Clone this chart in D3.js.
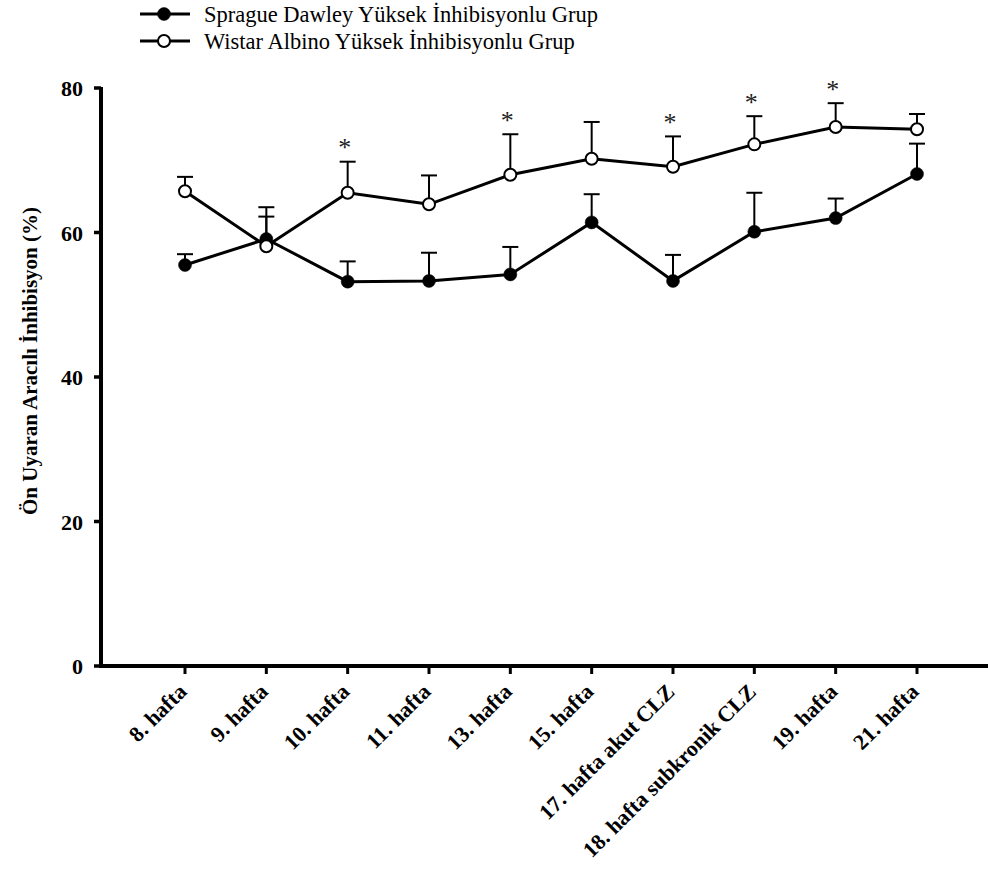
<!DOCTYPE html>
<html><head><meta charset="utf-8">
<script src="https://cdn.jsdelivr.net/npm/d3@7/dist/d3.min.js"></script>
<style>body{margin:0;background:#fff}svg{display:block}</style>
</head><body><svg id="chart" width="988" height="870"></svg>
<script>
const categories = ["8. hafta","9. hafta","10. hafta","11. hafta","13. hafta","15. hafta","17. hafta akut CLZ","18. hafta subkronik CLZ","19. hafta","21. hafta"];
const sdMean = [55.5,59.1,53.2,53.3,54.2,61.4,53.3,60.1,62.0,68.1];
const sdErr  = [1.5,4.4,2.8,3.9,3.8,3.9,3.6,5.4,2.7,4.2];
const waMean = [65.7,58.1,65.5,63.9,68.0,70.2,69.1,72.2,74.6,74.3];
const waErr  = [2.0,4.1,4.3,4.0,5.6,5.1,4.2,3.9,3.3,2.1];
const significant = ["10. hafta","13. hafta","17. hafta akut CLZ","18. hafta subkronik CLZ","19. hafta"];
const yTicks = [0,20,40,60,80];
const seriesNames = ["Sprague Dawley Yüksek İnhibisyonlu Grup","Wistar Albino Yüksek İnhibisyonlu Grup"];
const yTitle = "Ön Uyaran Aracılı İnhibisyon (%)";

const FONT = "'Liberation Serif','Times New Roman',Times,serif";
const svg = d3.select("#chart");
const axisX = 101, plotRight = 988;
const x = d3.scalePoint().domain(categories).range([185, 917]);
const y = d3.scaleLinear().domain([0, 80]).range([666, 88]);

// axes
const ax = svg.append("g");
ax.append("line").attr("x1", axisX).attr("x2", axisX).attr("y1", y(80) - 1).attr("y2", y(0) + 2)
  .attr("stroke", "#000").attr("stroke-width", 4);
ax.append("line").attr("x1", axisX - 2).attr("x2", plotRight).attr("y1", y(0)).attr("y2", y(0))
  .attr("stroke", "#000").attr("stroke-width", 4);
yTicks.forEach(t => {
  ax.append("line").attr("x1", axisX - 7).attr("x2", axisX).attr("y1", y(t)).attr("y2", y(t))
    .attr("stroke", "#000").attr("stroke-width", 3.5);
  ax.append("text").attr("x", 83).attr("y", y(t) + 8).attr("text-anchor", "end")
    .attr("font-family", FONT).attr("font-weight", "bold").attr("font-size", 22).text(t);
});
categories.forEach(c => {
  ax.append("line").attr("x1", x(c)).attr("x2", x(c)).attr("y1", y(0)).attr("y2", y(0) + 8)
    .attr("stroke", "#000").attr("stroke-width", 3);
  ax.append("text").attr("transform", `translate(${x(c) + 3},${y(0) + 27}) rotate(-45)`)
    .attr("text-anchor", "end").attr("font-family", FONT).attr("font-weight", "bold")
    .attr("font-size", 22).text(c);
});
svg.append("text").attr("transform", `translate(37,${(y(80)+y(0))/2 - 16}) rotate(-90)`)
  .attr("text-anchor", "middle").attr("font-family", FONT).attr("font-weight", "bold")
  .attr("font-size", 21).text(yTitle);

function drawSeries(means, errs, filled) {
  const g = svg.append("g");
  const pts = categories.map((c, i) => ({c, m: means[i], e: errs[i]}));
  g.append("path").datum(pts)
    .attr("d", d3.line().x(d => x(d.c)).y(d => y(d.m)))
    .attr("fill", "none").attr("stroke", "#000").attr("stroke-width", 3);
  pts.forEach(d => {
    g.append("line").attr("x1", x(d.c)).attr("x2", x(d.c)).attr("y1", y(d.m)).attr("y2", y(d.m + d.e))
      .attr("stroke", "#000").attr("stroke-width", 2);
    g.append("line").attr("x1", x(d.c) - 8).attr("x2", x(d.c) + 8).attr("y1", y(d.m + d.e)).attr("y2", y(d.m + d.e))
      .attr("stroke", "#000").attr("stroke-width", 2);
  });
  g.selectAll("circle").data(pts).join("circle")
    .attr("cx", d => x(d.c)).attr("cy", d => y(d.m))
    .attr("r", filled ? 6.5 : 6)
    .attr("fill", filled ? "#000" : "#fff").attr("stroke", "#000").attr("stroke-width", filled ? 0.5 : 2);
  return pts;
}
drawSeries(sdMean, sdErr, true);
const wa = drawSeries(waMean, waErr, false);

// significance stars
wa.filter(d => significant.includes(d.c)).forEach(d => {
  svg.append("text").attr("x", x(d.c) - 3).attr("y", y(d.m + d.e) - 5.5)
    .attr("text-anchor", "middle").attr("font-family", FONT).attr("font-size", 26)
    .attr("fill", "#222").text("*");
});

// legend
const leg = svg.append("g");
seriesNames.forEach((name, i) => {
  const ly = 14 + i * 27;
  leg.append("line").attr("x1", 140).attr("x2", 190).attr("y1", ly).attr("y2", ly)
    .attr("stroke", "#000").attr("stroke-width", 3);
  leg.append("circle").attr("cx", 164).attr("cy", ly).attr("r", i === 0 ? 6.5 : 6)
    .attr("fill", i === 0 ? "#000" : "#fff").attr("stroke", "#000").attr("stroke-width", i === 0 ? 0.5 : 2);
  leg.append("text").attr("x", 204).attr("y", ly + 8).attr("font-family", FONT)
    .attr("font-size", 22.5).text(name);
});
</script></body></html>
